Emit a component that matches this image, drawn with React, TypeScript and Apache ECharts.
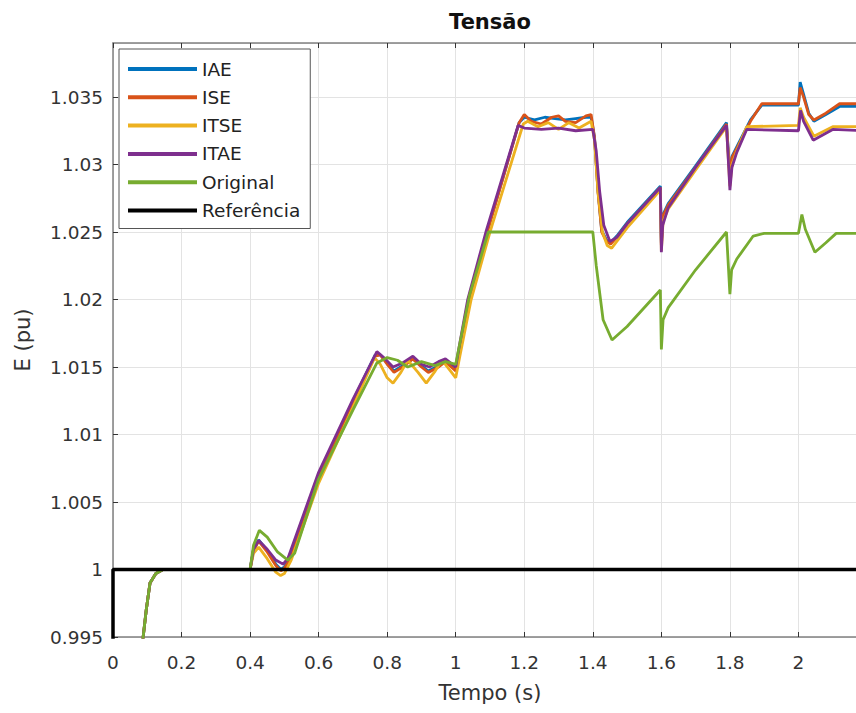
import React, { useEffect, useRef } from "react";
import * as echarts from "echarts";

// Common start-up transient (all controllers identical before t = 0.4 s)
const startSegment: number[][] = [
  [0, 0.96], [0.05, 0.982], [0.075, 0.9915], [0.088, 0.995], [0.097, 0.997],
  [0.108, 0.999], [0.125, 0.9997], [0.146, 1.0], [0.4, 1.0],
];

const iaeValues: number[][] = [
  [0.41, 1.0015], [0.425, 1.0022], [0.45, 1.0014], [0.475, 1.0004], [0.49, 1.0], [0.5, 1.0002],
  [0.52, 1.001], [0.6, 1.0069], [0.7, 1.0125], [0.765, 1.0159], [0.78, 1.0159], [0.8, 1.0153],
  [0.82, 1.0147], [0.845, 1.0151], [0.875, 1.0156], [0.9, 1.0151], [0.92, 1.0147], [0.95, 1.0151],
  [0.97, 1.0154], [1.0, 1.0148], [1.01, 1.0161], [1.04, 1.0201], [1.09, 1.0249], [1.185, 1.0331],
  [1.2, 1.0335], [1.23, 1.0333], [1.26, 1.0335], [1.29, 1.0334], [1.32, 1.0333], [1.35, 1.0334],
  [1.38, 1.0335], [1.395, 1.0335], [1.405, 1.032], [1.415, 1.0281], [1.426, 1.0251], [1.44, 1.0244],
  [1.452, 1.0242], [1.47, 1.0247], [1.5, 1.0257], [1.597, 1.0284], [1.6, 1.0242], [1.605, 1.0263],
  [1.62, 1.0271], [1.7, 1.0299], [1.79, 1.0331], [1.8, 1.0291], [1.806, 1.0306], [1.82, 1.0313],
  [1.86, 1.0333], [1.893, 1.0344], [2.0, 1.0344], [2.005, 1.0361], [2.015, 1.0352], [2.03, 1.0338],
  [2.045, 1.0332], [2.08, 1.0337], [2.12, 1.0343], [2.2, 1.0343],
];

const iseValues: number[][] = [
  [0.41, 1.0014], [0.425, 1.0021], [0.45, 1.0013], [0.475, 1.0003], [0.49, 0.9999], [0.5, 1.0001],
  [0.52, 1.0009], [0.6, 1.0068], [0.7, 1.0124], [0.765, 1.0158], [0.78, 1.0159], [0.8, 1.0152],
  [0.82, 1.0146], [0.845, 1.015], [0.875, 1.0156], [0.9, 1.015], [0.92, 1.0146], [0.95, 1.015],
  [0.97, 1.0154], [1.0, 1.0147], [1.01, 1.016], [1.04, 1.02], [1.09, 1.0248], [1.185, 1.0331],
  [1.2, 1.0337], [1.22, 1.0332], [1.25, 1.033], [1.28, 1.0335], [1.3, 1.0336], [1.32, 1.0332],
  [1.35, 1.0331], [1.38, 1.0336], [1.395, 1.0337], [1.405, 1.032], [1.415, 1.028], [1.426, 1.025],
  [1.44, 1.0243], [1.452, 1.0241], [1.47, 1.0246], [1.5, 1.0256], [1.597, 1.0283], [1.6, 1.024],
  [1.605, 1.0262], [1.62, 1.027], [1.7, 1.0298], [1.79, 1.033], [1.8, 1.029], [1.806, 1.0305],
  [1.82, 1.0312], [1.86, 1.0332], [1.893, 1.0345], [2.0, 1.0345], [2.005, 1.0357], [2.015, 1.035],
  [2.03, 1.0337], [2.045, 1.0333], [2.08, 1.0338], [2.12, 1.0345], [2.2, 1.0345],
];

const itseValues: number[][] = [
  [0.41, 1.0012], [0.425, 1.00166], [0.45, 1.0008], [0.475, 0.9998], [0.489, 0.99955], [0.5, 0.9997],
  [0.52, 1.0007], [0.6, 1.0064], [0.7, 1.012], [0.763, 1.0157], [0.78, 1.0152], [0.8, 1.0142],
  [0.817, 1.0138], [0.84, 1.0146], [0.86, 1.0155], [0.89, 1.0146], [0.914, 1.0138], [0.94, 1.0147],
  [0.96, 1.0155], [0.985, 1.0147], [1.0, 1.0142], [1.012, 1.0158], [1.045, 1.02], [1.1, 1.025],
  [1.197, 1.033], [1.21, 1.0332], [1.24, 1.0328], [1.27, 1.0331], [1.3, 1.0326], [1.33, 1.0331],
  [1.36, 1.0327], [1.395, 1.0332], [1.405, 1.0318], [1.415, 1.028], [1.428, 1.025], [1.442, 1.024],
  [1.455, 1.0238], [1.47, 1.0243], [1.5, 1.0253], [1.597, 1.0281], [1.6, 1.0236], [1.605, 1.0258],
  [1.62, 1.0267], [1.7, 1.0296], [1.79, 1.0328], [1.8, 1.0284], [1.806, 1.03], [1.82, 1.031],
  [1.849, 1.0328], [2.0, 1.0329], [2.005, 1.0342], [2.015, 1.0335], [2.045, 1.0321], [2.1, 1.0328],
  [2.2, 1.0328],
];

const itaeValues: number[][] = [
  [0.41, 1.0015], [0.425, 1.00215], [0.45, 1.0015], [0.475, 1.0007], [0.496, 1.0004], [0.51, 1.0008],
  [0.6, 1.0072], [0.7, 1.0126], [0.77, 1.01614], [0.79, 1.0157], [0.817, 1.015], [0.845, 1.0153],
  [0.875, 1.0158], [0.9, 1.0152], [0.923, 1.015], [0.95, 1.0154], [0.97, 1.0156], [1.0, 1.015],
  [1.008, 1.0162], [1.035, 1.02], [1.088, 1.025], [1.182, 1.0329], [1.2, 1.0327], [1.25, 1.0326],
  [1.3, 1.0327], [1.35, 1.0325], [1.4, 1.0326], [1.41, 1.031], [1.42, 1.028], [1.432, 1.0255],
  [1.45, 1.0243], [1.47, 1.0246], [1.5, 1.0256], [1.597, 1.0283], [1.6, 1.0235], [1.604, 1.0255],
  [1.62, 1.0268], [1.7, 1.0298], [1.79, 1.0329], [1.8, 1.0281], [1.806, 1.0298], [1.82, 1.0309],
  [1.849, 1.0326], [2.0, 1.0325], [2.006, 1.034], [2.015, 1.0332], [2.043, 1.0318], [2.1, 1.0326],
  [2.2, 1.0325],
];

const originalValues: number[][] = [
  [0.41, 1.0018], [0.427, 1.0029], [0.45, 1.0024], [0.48, 1.0013], [0.51, 1.0007], [0.53, 1.0012],
  [0.6, 1.0067], [0.7, 1.0118], [0.77, 1.0153], [0.8, 1.0157], [0.83, 1.0155], [0.86, 1.015],
  [0.9, 1.0154], [0.94, 1.0151], [0.97, 1.0154], [1.0, 1.0152], [1.01, 1.0165], [1.04, 1.0203],
  [1.095, 1.025], [1.4, 1.025], [1.41, 1.0225], [1.43, 1.0185], [1.456, 1.017], [1.5, 1.018],
  [1.597, 1.0207], [1.6, 1.0163], [1.605, 1.0185], [1.62, 1.0194], [1.7, 1.0222], [1.79, 1.025],
  [1.8, 1.0204], [1.805, 1.0222], [1.82, 1.023], [1.868, 1.0247], [1.9, 1.0249], [2.0, 1.0249],
  [2.01, 1.0263], [2.02, 1.0252], [2.048, 1.0235], [2.08, 1.0242], [2.11, 1.0249], [2.2, 1.0249],
];

const referenceValues: number[][] = [
  [0, 0.98], [0, 1.0], [2.2, 1.0],
];

const seriesNames = ["IAE", "ISE", "ITSE", "ITAE", "Original", "Referência"];
const seriesColors = ["#0072BD", "#D95319", "#EDB120", "#7E2F8E", "#77AC30", "#000000"];

const FONT = "DejaVu Sans";
const fmt = (v: number) => String(Number(v.toFixed(3)));

export default function App() {
  const ref = useRef<HTMLDivElement>(null);
  useEffect(() => {
    if (!ref.current) return;
    const chart = echarts.init(ref.current, undefined, { renderer: "svg" });
    const dataSets = [
      [...startSegment, ...iaeValues],
      [...startSegment, ...iseValues],
      [...startSegment, ...itseValues],
      [...startSegment, ...itaeValues],
      [...startSegment, ...originalValues],
      referenceValues,
    ];
    const axisLineStyle = { color: "#808080", width: 1.5 };
    chart.setOption({
      animation: false,
      backgroundColor: "#ffffff",
      title: {
        text: "Tensão",
        left: "center",
        top: 11,
        padding: 0,
        textStyle: { fontFamily: FONT, fontSize: 21, fontWeight: "bold", color: "#111" },
      },
      legend: {
        orient: "vertical",
        left: 119,
        top: 49,
        padding: [10, 10, 8, 9],
        itemGap: 8.3,
        itemWidth: 69,
        itemHeight: 4,
        icon: "rect",
        selectedMode: false,
        backgroundColor: "#ffffff",
        borderColor: "#555",
        borderWidth: 1,
        textStyle: { fontFamily: FONT, fontSize: 18.5, color: "#222", lineHeight: 20 },
        data: seriesNames,
      },
      grid: { left: 113, right: 113, top: 43, bottom: 76, containLabel: false },
      xAxis: [
        {
          type: "value",
          min: 0,
          max: 2.2,
          interval: 0.2,
          position: "bottom",
          name: "Tempo (s)",
          nameLocation: "middle",
          nameGap: 45,
          nameTextStyle: { fontFamily: FONT, fontSize: 21, color: "#333" },
          axisLine: { show: true, onZero: false, lineStyle: axisLineStyle },
          axisTick: { show: true, inside: true, length: 5, lineStyle: { color: "#333" } },
          axisLabel: {
            fontFamily: FONT,
            fontSize: 18.5,
            color: "#333",
            margin: 16,
            formatter: fmt,
            showMaxLabel: false,
          },
          splitLine: { show: true, lineStyle: { color: "#e3e3e3", width: 1 } },
        },
        {
          type: "value",
          min: 0,
          max: 2.2,
          interval: 0.2,
          position: "top",
          axisLine: { show: true, onZero: false, lineStyle: axisLineStyle },
          axisTick: { show: true, inside: true, length: 5, lineStyle: { color: "#333" } },
          axisLabel: { show: false },
          splitLine: { show: false },
        },
      ],
      yAxis: {
        type: "value",
        min: 0.995,
        max: 1.039,
        interval: 0.005,
        name: "E (pu)",
        nameLocation: "middle",
        nameGap: 80,
        nameTextStyle: { fontFamily: FONT, fontSize: 21, color: "#333" },
        axisLine: { show: true, onZero: false, lineStyle: axisLineStyle },
        axisTick: { show: true, inside: true, length: 5, lineStyle: { color: "#333" } },
        axisLabel: {
          fontFamily: FONT,
          fontSize: 18.5,
          color: "#333",
          margin: 10,
          formatter: fmt,
          showMaxLabel: false,
        },
        splitLine: { show: true, lineStyle: { color: "#e3e3e3", width: 1 } },
      },
      series: seriesNames.map((name, i) => ({
        name,
        type: "line",
        xAxisIndex: 0,
        data: dataSets[i],
        showSymbol: false,
        symbol: "none",
        clip: true,
        color: seriesColors[i],
        lineStyle: { color: seriesColors[i], width: i === 5 ? 3.5 : 2.8 },
        z: 2 + i,
      })),
    });
    return () => chart.dispose();
  }, []);
  return (
    <div
      style={{
        position: "fixed",
        left: 0,
        top: 0,
        width: 856,
        height: 713,
        overflow: "hidden",
        background: "#ffffff",
      }}
    >
      <div ref={ref} style={{ width: 980, height: 713 }} />
    </div>
  );
}
